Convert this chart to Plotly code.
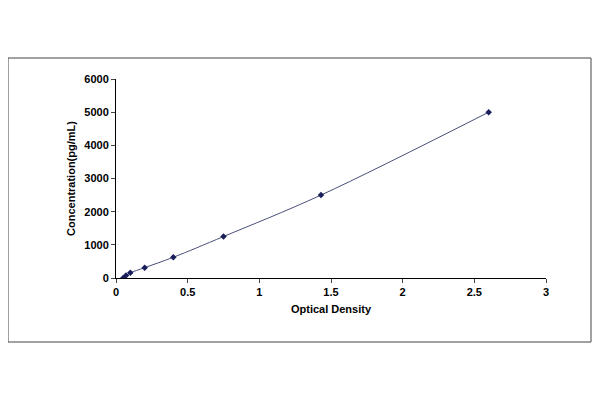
import plotly.graph_objects as go

od = [0.05, 0.07, 0.1, 0.2, 0.4, 0.75, 1.43, 2.6]
conc = [0, 78, 156, 312, 625, 1250, 2500, 5000]
x_ticks = [0, 0.5, 1, 1.5, 2, 2.5, 3]
x_labels = ["<b>0</b>", "<b>0.5</b>", "<b>1</b>", "<b>1.5</b>", "<b>2</b>", "<b>2.5</b>", "<b>3</b>"]
y_ticks = [0, 1000, 2000, 3000, 4000, 5000, 6000]
y_labels = ["<b>%d</b>" % v for v in y_ticks]

fig = go.Figure()
fig.add_trace(go.Scatter(
    x=od, y=conc, mode="lines+markers",
    line=dict(color="#4a4f7a", width=1, shape="spline"),
    marker=dict(symbol="diamond", size=5, color="#1a1f5c"),
))

axis_font = dict(family="Liberation Sans, Arial", size=11, color="black")
fig.update_xaxes(
    range=[0, 3], tickvals=x_ticks, ticktext=x_labels, ticks="outside", ticklen=4,
    showgrid=False, zeroline=False, showline=True, linecolor="black", linewidth=1,
    tickfont=axis_font,
    title=dict(text="<b>Optical Density</b>", font=axis_font, standoff=8),
)
fig.update_yaxes(
    range=[0, 6000], tickvals=y_ticks, ticktext=y_labels, ticks="outside", ticklen=4,
    showgrid=False, zeroline=False, showline=True, linecolor="black", linewidth=1,
    tickfont=axis_font,
    title=dict(text="<b>Concentration(pg/mL)</b>", font=axis_font, standoff=6),
)

# outer frame
fig.add_shape(type="rect", xref="paper", yref="paper", x0=-108/430, x1=(583-108)/430,
              y0=(270-334)/199, y1=(270-50)/199, line=dict(color="#444", width=1))

fig.update_layout(
    width=584, height=384,
    margin=dict(l=108, r=46, t=71, b=114),
    paper_bgcolor="white", plot_bgcolor="white",
    showlegend=False,
    font=dict(family="Liberation Sans, Arial", size=11, color="black"),
)
fig.write_html("out.html")
